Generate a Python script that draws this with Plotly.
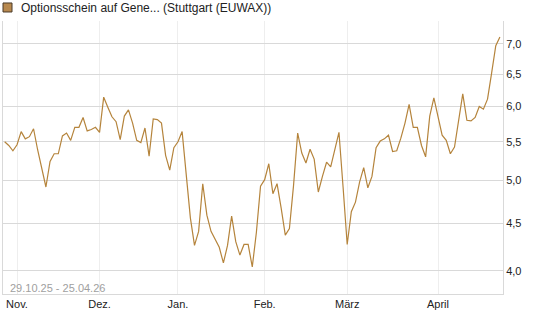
import plotly.graph_objects as go
import pandas as pd

# Trading days (Stuttgart), 29.10.25 - 24.04.26
holidays = ["2025-12-24", "2025-12-25", "2025-12-26", "2025-12-31",
            "2026-01-01", "2026-04-03", "2026-04-06"]
dates = [d.strftime("%Y-%m-%d") for d in pd.bdate_range("2025-10-29", "2026-04-24")
         if d.strftime("%Y-%m-%d") not in holidays]

prices = [
    5.50, 5.45, 5.38, 5.46, 5.64, 5.54, 5.57, 5.68, 5.39, 5.17,
    4.92, 5.24, 5.34, 5.34, 5.58, 5.62, 5.52, 5.70, 5.70, 5.84,
    5.65, 5.67, 5.70, 5.63, 6.14, 5.99, 5.85, 5.78, 5.53, 5.86,
    5.95, 5.76, 5.52, 5.49, 5.69, 5.31, 5.82, 5.81, 5.76, 5.32,
    5.13, 5.42, 5.50, 5.64, 5.02, 4.56, 4.26, 4.41, 4.96, 4.59,
    4.41, 4.33, 4.24, 4.08, 4.26, 4.58, 4.30, 4.16, 4.27, 4.27,
    4.04, 4.40, 4.93, 5.01, 5.21, 4.84, 4.96, 4.67, 4.37, 4.44,
    4.94, 5.62, 5.35, 5.22, 5.40, 5.27, 4.86, 5.05, 5.23, 5.17,
    5.41, 5.63, 4.92, 4.27, 4.63, 4.74, 4.98, 5.16, 4.91, 5.05,
    5.42, 5.51, 5.54, 5.59, 5.37, 5.38, 5.55, 5.76, 6.03, 5.70,
    5.70, 5.45, 5.30, 5.86, 6.13, 5.85, 5.59, 5.52, 5.34, 5.43,
    5.77, 6.19, 5.80, 5.79, 5.84, 6.00, 5.96, 6.11, 6.52, 6.97,
    7.12,
]

month_ticks = ["2025-11-03", "2025-12-01", "2026-01-02", "2026-02-02", "2026-03-02", "2026-04-01"]
month_labels = ["Nov.", "Dez.", "Jan.", "Feb.", "März", "April"]

y_ticks = [4.0, 4.5, 5.0, 5.5, 6.0, 6.5, 7.0]
y_labels = ["4,0", "4,5", "5,0", "5,5", "6,0", "6,5", "7,0"]

series_name = "Optionsschein auf Gene... (Stuttgart (EUWAX))"
range_text = "29.10.25 - 25.04.26"

line_color = "#b5843c"
font_family = "Liberation Sans, Arial, sans-serif"

fig = go.Figure()
fig.add_trace(go.Scatter(
    x=dates, y=prices, mode="lines",
    line=dict(color=line_color, width=1.2),
    name=series_name, showlegend=False, hoverinfo="skip",
))

fig.update_layout(
    width=545, height=327,
    margin=dict(l=3, r=42, t=21, b=33),
    paper_bgcolor="white", plot_bgcolor="white",
    font=dict(family=font_family, size=11, color="#222222"),
    xaxis=dict(
        type="category", range=[-0.4, 120.75],
        tickmode="array", tickvals=month_ticks, ticktext=month_labels,
        showgrid=True, gridcolor="#eeeeee", gridwidth=1,
        showline=True, linecolor="#d9d9d9", linewidth=1,
        ticks="", zeroline=False,
        tickfont=dict(size=11, color="#222222"),
    ),
    yaxis=dict(
        type="log", range=[0.5774, 0.8697], side="right",
        tickmode="array", tickvals=y_ticks, ticktext=y_labels,
        showgrid=True, gridcolor="#d9d9d9", gridwidth=1,
        showline=True, linecolor="#d9d9d9", linewidth=1, mirror=True,
        ticks="", zeroline=False,
        tickfont=dict(size=11, color="#222222"),
    ),
    shapes=[dict(
        type="rect", xref="paper", yref="paper",
        x0=0.0, x1=0.018, y0=1.033, y1=1.066,
        fillcolor="#b8894f", line=dict(color="#4a3b2a", width=1),
    )],
    annotations=[
        dict(text=series_name, xref="paper", yref="paper", x=0.032, y=1.048,
             xanchor="left", yanchor="middle", showarrow=False,
             font=dict(size=12, color="#222222")),
        dict(text=range_text, xref="paper", yref="paper", x=0.010, y=0.022,
             xanchor="left", yanchor="middle", showarrow=False,
             font=dict(size=11, color="#a0a0a0")),
    ],
)

fig.write_html("out.html")
